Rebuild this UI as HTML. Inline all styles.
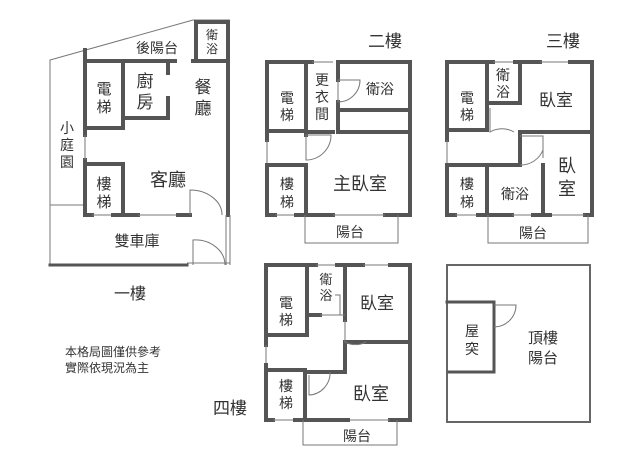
<!DOCTYPE html>
<html><head><meta charset="utf-8"><style>
html,body{margin:0;padding:0;background:#fff}
svg{display:block}
text{font-family:"Liberation Sans","Noto Sans CJK TC",sans-serif;fill:#333}
.w{stroke:#555;stroke-width:4;fill:none;stroke-linecap:square}
.t{stroke:#777;stroke-width:1;fill:none}
</style></head><body>
<svg width="640" height="461" viewBox="0 0 640 461">
<!-- FLOOR 1 -->
<polyline class="t" points="50,265 50,60 193,20 230,20"/>
<line class="t" x1="50" y1="205" x2="85" y2="205"/>
<line class="w" x1="50" y1="265" x2="187" y2="265" style="stroke-width:3"/>
<line class="t" x1="187" y1="263" x2="230" y2="263"/>
<polyline class="w" points="196,58 196,22 228,22 228,215"/>
<line class="t" x1="226" y1="215" x2="226" y2="265"/><line class="t" x1="230" y1="215" x2="230" y2="265"/>
<line class="w" x1="85" y1="61" x2="175" y2="61"/><line class="w" x1="193" y1="61" x2="228" y2="61"/>
<line class="w" x1="85" y1="50" x2="85" y2="135"/><line class="w" x1="85" y1="160" x2="85" y2="215"/>
<line class="t" x1="85" y1="135" x2="85" y2="160"/>
<polyline class="w" points="85,128 123,128 123,61"/>
<polyline class="w" points="123,118 168,118 168,98"/><line class="w" x1="168" y1="61" x2="168" y2="73"/>
<polyline class="w" points="85,164 123,164 123,215"/>
<line class="w" x1="85" y1="215" x2="92" y2="215"/><line class="t" x1="92" y1="215" x2="113" y2="215"/>
<line class="w" x1="113" y1="215" x2="138" y2="215"/><line class="t" x1="138" y1="215" x2="178" y2="215"/>
<line class="w" x1="178" y1="215" x2="190" y2="215"/>
<path class="t" d="M190,215 L190,190 A32,25 0 0 1 222,215"/>
<path class="t" d="M193,265 L193,240 A30,25 0 0 1 225,265"/>
<text x="157" y="53" font-size="14" text-anchor="middle">後陽台</text>
<text x="212" y="39" font-size="12" text-anchor="middle">衛</text><text x="212" y="53" font-size="12" text-anchor="middle">浴</text>
<text x="104" y="94" font-size="15" text-anchor="middle">電</text><text x="104" y="112" font-size="15" text-anchor="middle">梯</text>
<text x="145" y="87" font-size="17" text-anchor="middle">廚</text><text x="145" y="108" font-size="17" text-anchor="middle">房</text>
<text x="203" y="93" font-size="17" text-anchor="middle">餐</text><text x="203" y="114" font-size="17" text-anchor="middle">廳</text>
<text x="67" y="133" font-size="14" text-anchor="middle">小</text><text x="67" y="150" font-size="14" text-anchor="middle">庭</text><text x="67" y="167" font-size="14" text-anchor="middle">園</text>
<text x="104" y="189" font-size="15" text-anchor="middle">樓</text><text x="104" y="207" font-size="15" text-anchor="middle">梯</text>
<text x="168" y="186" font-size="18" text-anchor="middle">客廳</text>
<text x="137" y="246" font-size="15" text-anchor="middle">雙車庫</text>
<text x="130" y="299" font-size="16" text-anchor="middle">一樓</text>
<text x="65" y="356" font-size="12">本格局圖僅供參考</text>
<text x="65" y="372" font-size="12">實際依現況為主</text>
<!-- FLOOR 2 -->
<text x="385" y="47" font-size="17" text-anchor="middle">二樓</text>
<polyline class="w" points="267,140 267,62 312,62"/><line class="t" x1="312" y1="62" x2="333" y2="62"/>
<polyline class="w" points="338,62 410,62 410,215 385,215"/>
<line class="t" x1="267" y1="140" x2="267" y2="165"/>
<polyline class="w" points="267,165 267,215 275,215"/><line class="t" x1="275" y1="215" x2="296" y2="215"/>
<line class="w" x1="296" y1="215" x2="333" y2="215"/><line class="t" x1="333" y1="215" x2="385" y2="215"/>
<polyline class="w" points="267,131 306,131 306,62"/>
<polyline class="w" points="267,165 306,165 306,215"/>
<line class="w" x1="306" y1="131" x2="306" y2="135"/>
<polyline class="w" points="338,62 338,80"/><polyline class="w" points="338,102 338,132 410,132"/>
<line class="w" x1="338" y1="110" x2="410" y2="110"/>
<line class="w" x1="306" y1="132" x2="333" y2="132"/>
<path class="t" d="M338,80 L338,102 A22,22 0 0 0 360,80 Z"/>
<path class="t" d="M306,135 L306,160 A25,25 0 0 0 331,135 Z"/>
<polyline class="t" points="305,215 305,243 398,243 398,215"/>
<text x="287" y="103" font-size="14" text-anchor="middle">電</text><text x="287" y="120" font-size="14" text-anchor="middle">梯</text>
<text x="322" y="85" font-size="14" text-anchor="middle">更</text><text x="322" y="102" font-size="14" text-anchor="middle">衣</text><text x="322" y="119" font-size="14" text-anchor="middle">間</text>
<text x="380" y="94" font-size="14" text-anchor="middle">衛浴</text>
<text x="287" y="189" font-size="14" text-anchor="middle">樓</text><text x="287" y="207" font-size="14" text-anchor="middle">梯</text>
<text x="360" y="190" font-size="18" text-anchor="middle">主臥室</text>
<text x="350" y="237" font-size="14" text-anchor="middle">陽台</text>
<!-- FLOOR 3 -->
<text x="563" y="47" font-size="17" text-anchor="middle">三樓</text>
<polyline class="w" points="447,140 447,62 493,62"/><line class="t" x1="493" y1="62" x2="515" y2="62"/>
<line class="w" x1="515" y1="62" x2="540" y2="62"/><line class="t" x1="540" y1="62" x2="570" y2="62"/>
<polyline class="w" points="570,62 592,62 592,215 585,215"/><line class="t" x1="550" y1="215" x2="585" y2="215"/>
<line class="t" x1="447" y1="140" x2="447" y2="165"/>
<polyline class="w" points="447,165 447,215 455,215"/><line class="t" x1="455" y1="215" x2="478" y2="215"/>
<line class="w" x1="478" y1="215" x2="512" y2="215"/><line class="t" x1="512" y1="215" x2="533" y2="215"/>
<line class="w" x1="533" y1="215" x2="550" y2="215"/>
<polyline class="w" points="447,130 487,130 487,62"/><line class="w" x1="487" y1="103" x2="520" y2="103"/>
<line class="w" x1="520" y1="62" x2="520" y2="103"/><line class="w" x1="520" y1="132" x2="592" y2="132"/>
<polyline class="w" points="447,165 487,165 487,215"/>
<polyline class="w" points="487,165 520,165"/><line class="w" x1="543" y1="165" x2="543" y2="215"/>
<line class="w" x1="520" y1="132" x2="520" y2="165"/>
<path class="t" d="M490,108 L490,132 A24,24 0 0 1 514,132"/>
<path class="t" d="M520,136 L543,136 L543,158"/>
<path class="t" d="M520,165 A24,24 0 0 0 543,150"/>
<polyline class="t" points="488,215 488,243 588,243 588,215"/>
<text x="467" y="103" font-size="14" text-anchor="middle">電</text><text x="467" y="120" font-size="14" text-anchor="middle">梯</text>
<text x="503" y="80" font-size="14" text-anchor="middle">衛</text><text x="503" y="97" font-size="14" text-anchor="middle">浴</text>
<text x="556" y="106" font-size="17" text-anchor="middle">臥室</text>
<text x="567" y="172" font-size="18" text-anchor="middle">臥</text><text x="567" y="195" font-size="18" text-anchor="middle">室</text>
<text x="467" y="189" font-size="14" text-anchor="middle">樓</text><text x="467" y="207" font-size="14" text-anchor="middle">梯</text>
<text x="515" y="199" font-size="14" text-anchor="middle">衛浴</text>
<text x="533" y="238" font-size="14" text-anchor="middle">陽台</text>
<!-- FLOOR 4 -->
<polyline class="w" points="266,345 266,265 316,265"/><line class="t" x1="316" y1="265" x2="337" y2="265"/>
<line class="w" x1="337" y1="265" x2="363" y2="265"/><line class="t" x1="363" y1="265" x2="390" y2="265"/>
<polyline class="w" points="390,265 410,265 410,420 390,420"/><line class="t" x1="348" y1="420" x2="390" y2="420"/>
<line class="t" x1="266" y1="345" x2="266" y2="365"/>
<polyline class="w" points="266,365 266,420 273,420"/><line class="t" x1="273" y1="420" x2="295" y2="420"/>
<line class="w" x1="295" y1="420" x2="348" y2="420"/>
<polyline class="w" points="266,335 307,335 307,265"/><line class="w" x1="307" y1="315" x2="320" y2="315"/>
<line class="w" x1="345" y1="265" x2="345" y2="320"/><line class="w" x1="345" y1="342" x2="345" y2="372"/>
<line class="w" x1="345" y1="342" x2="410" y2="342"/>
<polyline class="w" points="266,370 305,370 305,420"/><line class="w" x1="305" y1="372" x2="345" y2="372"/>
<path class="t" d="M320,315 L345,315 M335,295 L340,295 L340,315"/>
<path class="t" d="M345,320 L345,342 A22,22 0 0 0 366,342"/>
<path class="t" d="M309,375 L309,395 A22,22 0 0 0 330,372"/>
<polyline class="t" points="303,420 303,445 397,445 397,420"/>
<text x="286" y="308" font-size="14" text-anchor="middle">電</text><text x="286" y="325" font-size="14" text-anchor="middle">梯</text>
<text x="326" y="284" font-size="13" text-anchor="middle">衛</text><text x="326" y="300" font-size="13" text-anchor="middle">浴</text>
<text x="377" y="309" font-size="17" text-anchor="middle">臥室</text>
<text x="286" y="391" font-size="14" text-anchor="middle">樓</text><text x="286" y="408" font-size="14" text-anchor="middle">梯</text>
<text x="371" y="400" font-size="18" text-anchor="middle">臥室</text>
<text x="357" y="441" font-size="14" text-anchor="middle">陽台</text>
<text x="230" y="414" font-size="17" text-anchor="middle">四樓</text>
<!-- ROOF -->
<rect x="447" y="265" width="143" height="157" fill="none" stroke="#666" stroke-width="2"/>
<polyline class="w" points="447,302 494,302 494,372 449,372" style="stroke-width:3"/>
<path class="t" d="M494,305 L516,305 A22,22 0 0 1 494,327"/>
<text x="472" y="336" font-size="14" text-anchor="middle">屋</text><text x="472" y="354" font-size="14" text-anchor="middle">突</text>
<text x="543" y="343" font-size="15" text-anchor="middle">頂樓</text><text x="543" y="363" font-size="15" text-anchor="middle">陽台</text>
</svg>
</body></html>
